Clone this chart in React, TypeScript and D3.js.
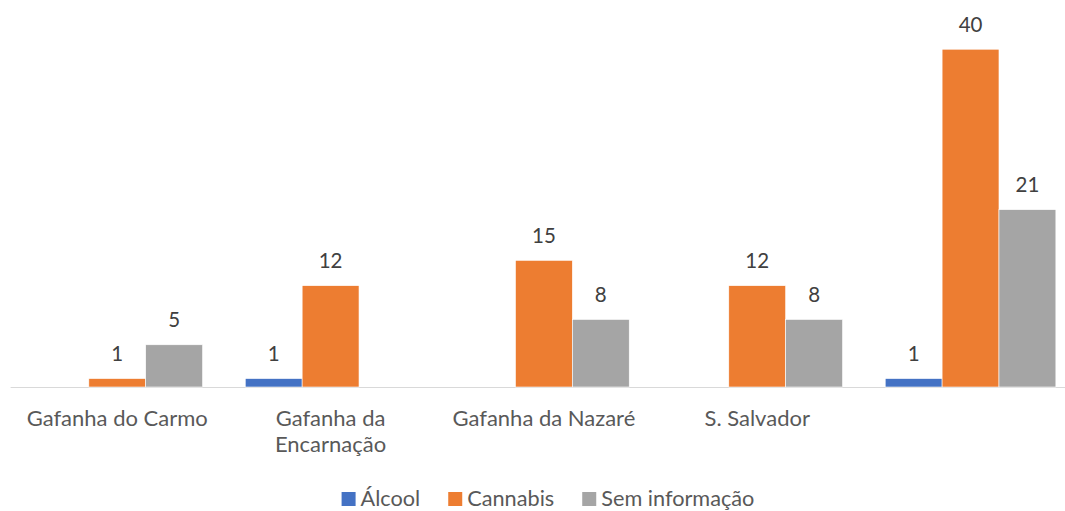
import React, { useEffect, useRef } from "react";
import * as d3 from "d3";

// categories along the x axis (last group has no label in the source)
const categories = [
    "Gafanha do Carmo",
    "Gafanha da Encarnação",
    "Gafanha da Nazaré",
    "S. Salvador",
    "",
];

const seriesNames = ["Álcool", "Cannabis", "Sem informação"];
const seriesColors = ["#4472C4", "#ED7D31", "#A5A5A5"];

// values per category, null = no bar
const alcool = [null, 1, null, null, 1];
const cannabis = [1, 12, 15, 12, 40];
const semInformacao = [5, null, 8, 8, 21];

const yMax = 45;

const App = () => {
    const svgRef = useRef<SVGSVGElement>(null);

    useEffect(() => {
        document.body.style.margin = "0";
        const width = 1065;
        const height = 511;
        const font = "Lato, 'Open Sans', sans-serif";

        const svg = d3.select(svgRef.current);
        svg.selectAll("*").remove();
        svg.attr("width", width).attr("height", height);

        const series = [alcool, cannabis, semInformacao];

        // plot area runs a little past the right edge, like the source crop
        const xScale = d3
            .scaleBand()
            .domain(categories.map((c, i) => String(i)))
            .range([10.6, 1077.2])
            .paddingInner(0.2)
            .paddingOuter(0.1);

        const xSub = d3
            .scaleBand()
            .domain(seriesNames)
            .range([0, xScale.bandwidth()]);

        const yScale = d3
            .scaleLinear()
            .domain([0, yMax])
            .range([387, 7]);

        // baseline
        svg.append("line")
            .attr("x1", 10.6)
            .attr("x2", width)
            .attr("y1", yScale(0) + 0.5)
            .attr("y2", yScale(0) + 0.5)
            .attr("stroke", "#D9D9D9")
            .attr("stroke-width", 1);

        // bars + data labels
        series.forEach((values, s) => {
            values.forEach((v, i) => {
                if (v === null) return;
                const x0 = xScale(String(i))! + xSub(seriesNames[s])!;
                svg.append("rect")
                    .attr("x", x0)
                    .attr("y", yScale(v))
                    .attr("width", xSub.bandwidth())
                    .attr("height", yScale(0) - yScale(v))
                    .attr("fill", seriesColors[s])
                    .attr("stroke", "#fff")
                    .attr("stroke-width", 0.6);

                svg.append("text")
                    .attr("x", x0 + xSub.bandwidth() / 2)
                    .attr("y", yScale(v) - 17.5)
                    .attr("text-anchor", "middle")
                    .attr("font-family", font)
                    .attr("font-size", 20.5)
                    .attr("fill", "#404040")
                    .text(v);
            });
        });

        // category labels, wrapped to the band width
        categories.forEach((c, i) => {
            if (!c) return;
            const cx = xScale(String(i))! + xScale.bandwidth() / 2;
            const t = svg
                .append("text")
                .attr("x", cx)
                .attr("y", 426)
                .attr("text-anchor", "middle")
                .attr("font-family", font)
                .attr("font-size", 22)
                .attr("fill", "#595959");

            const words = c.split(" ");
            let line: string[] = [];
            let tspan = t.append("tspan").attr("x", cx).attr("dy", 0);
            words.forEach((w) => {
                line.push(w);
                tspan.text(line.join(" "));
                const len = (tspan.node() as SVGTSpanElement).getComputedTextLength();
                if (len > xScale.step() - 8 && line.length > 1) {
                    line.pop();
                    tspan.text(line.join(" "));
                    line = [w];
                    tspan = t
                        .append("tspan")
                        .attr("x", cx)
                        .attr("dy", 26)
                        .text(w);
                }
            });
        });

        // legend, centred under the chart
        const legend = svg.append("g");
        let lx = 0;
        seriesNames.forEach((name, s) => {
            const g = legend.append("g").attr("transform", `translate(${lx},0)`);
            g.append("rect")
                .attr("x", 0)
                .attr("y", 492)
                .attr("width", 14)
                .attr("height", 14)
                .attr("fill", seriesColors[s]);
            const txt = g
                .append("text")
                .attr("x", 19)
                .attr("y", 506)
                .attr("font-family", font)
                .attr("font-size", 21.7)
                .attr("fill", "#595959")
                .text(name);
            const w = (txt.node() as SVGTextElement).getComputedTextLength();
            lx += 19 + w + 28;
        });
        const total = lx - 28;
        legend.attr("transform", `translate(${(339 + 757) / 2 - total / 2},0)`);
    }, []);

    return <svg ref={svgRef} style={{ display: "block" }}></svg>;
};

export default App;
